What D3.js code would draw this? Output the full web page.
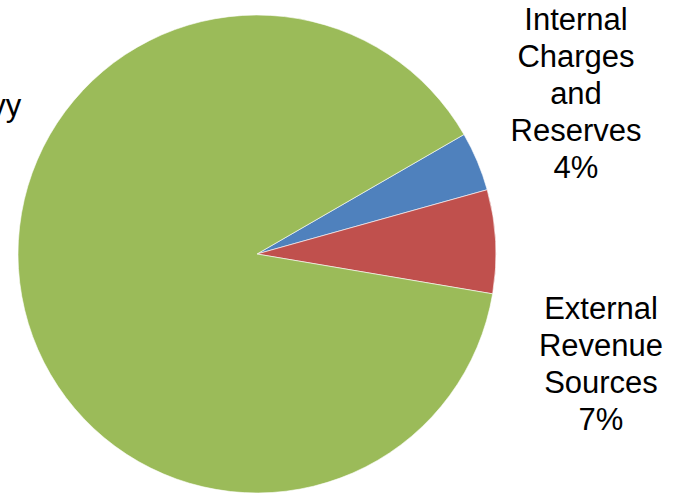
<!DOCTYPE html>
<html>
<head>
<meta charset="utf-8">
<script src="https://cdn.jsdelivr.net/npm/d3@7.9.0/dist/d3.min.js"></script>
<style>
  body { margin: 0; background: #fff; }
  svg { display: block; }
</style>
</head>
<body>
<div id="chart"></div>
<script>
// data
const categories = ["Internal Charges and Reserves", "External Revenue Sources", "Tax Levy"];
const labelLines = [["Internal", "Charges", "and", "Reserves"], ["External", "Revenue", "Sources"], ["Tax Levy"]];
const values = [4, 7, 89];
const colors = ["#4F81BD", "#C0504D", "#9BBB59"];

const width = 683, height = 494;
const cx = 257, cy = 254, radius = 239;

// label block positions (center x, first baseline y)
const labelPos = [
    {x: 576, y: 30},
    {x: 601, y: 319},
    {x: -40, y: 116}
];
const lineHeight = 37;

const svg = d3.select("#chart")
    .append("svg")
    .attr("width", width)
    .attr("height", height);

const g = svg.append("g")
    .attr("transform", `translate(${cx},${cy})`);

const pie = d3.pie()
    .sort(null)
    .value(d => d)
    .startAngle(Math.PI / 3)
    .endAngle(Math.PI / 3 + 2 * Math.PI);

const arc = d3.arc()
    .innerRadius(0)
    .outerRadius(radius);

const arcs = pie(values);

g.selectAll("path")
    .data(arcs)
    .join("path")
    .attr("d", arc)
    .attr("fill", (d, i) => colors[i])
    .attr("stroke", "#fff")
    .attr("stroke-width", 0.6);

// labels
const total = d3.sum(values);
arcs.forEach((d, i) => {
    const lines = labelLines[i].concat([Math.round(d.value / total * 100) + "%"]);
    const t = svg.append("text")
        .attr("text-anchor", "middle")
        .attr("font-family", "Liberation Sans, Arial, sans-serif")
        .attr("font-size", "31px")
        .attr("fill", "#000");
    lines.forEach((line, j) => {
        t.append("tspan")
            .attr("x", labelPos[i].x)
            .attr("y", labelPos[i].y + j * lineHeight)
            .text(line);
    });
});
</script>
</body>
</html>
